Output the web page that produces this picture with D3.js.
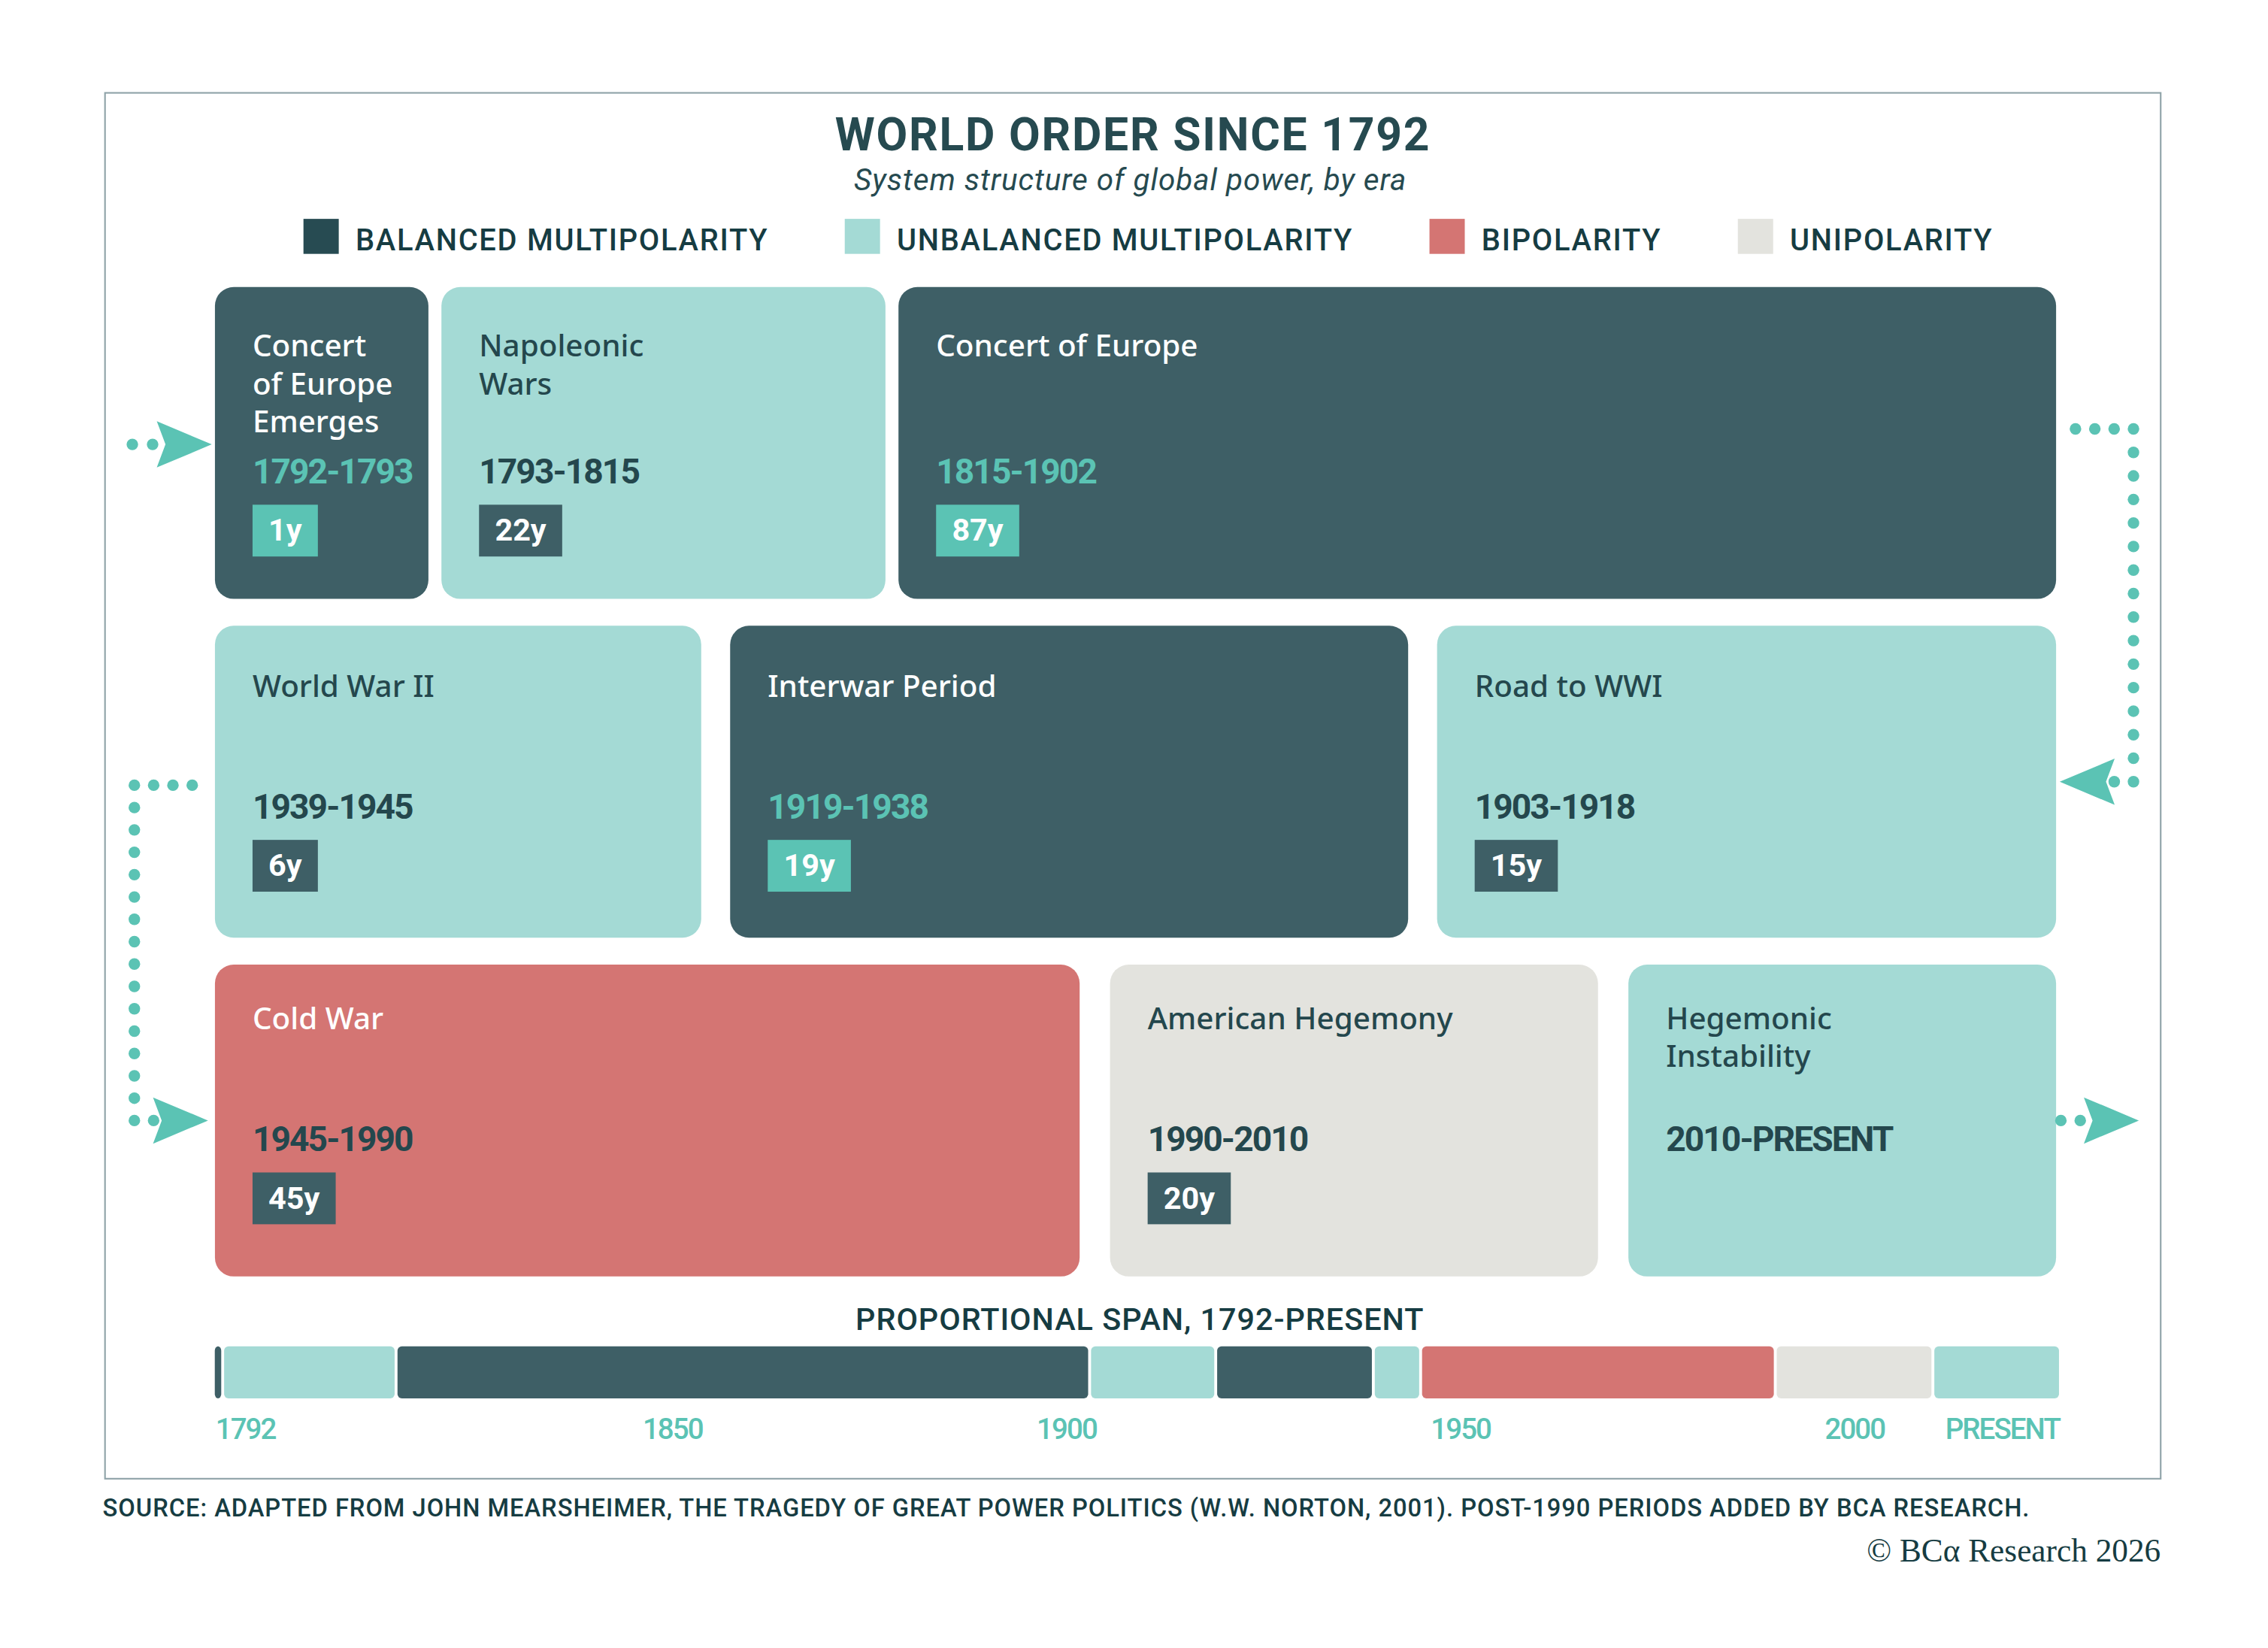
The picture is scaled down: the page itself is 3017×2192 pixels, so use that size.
<!DOCTYPE html>
<html>
<head>
<meta charset="utf-8">
<script src="https://cdn.jsdelivr.net/npm/d3@7"></script>
<style>
  html, body { margin: 0; padding: 0; background: #fff; }
  svg { display: block; }
</style>
</head>
<body>
<div id="chart-area"></div>
<script>
const eraNames = ["Concert|of Europe|Emerges", "Napoleonic|Wars", "Concert of Europe", "Road to WWI", "Interwar Period", "World War II", "Cold War", "American Hegemony", "Hegemonic|Instability"];
const eraStart = [1792, 1793, 1815, 1903, 1919, 1939, 1945, 1990, 2010];
const eraEnd = [1793, 1815, 1902, 1918, 1938, 1945, 1990, 2010, null];
const eraType = ["balanced", "unbalanced", "balanced", "unbalanced", "balanced", "unbalanced", "bipolar", "unipolar", "unbalanced"];
const presentYear = 2026;

const legendKeys = ["balanced", "unbalanced", "bipolar", "unipolar"];
const legendLabels = ["BALANCED MULTIPOLARITY", "UNBALANCED MULTIPOLARITY", "BIPOLARITY", "UNIPOLARITY"];

const tickYears = [1792, 1850, 1900, 1950, 2000, 2026];
const tickLabels = ["1792", "1850", "1900", "1950", "2000", "PRESENT"];

// boxes in reading order, row by row (middle row runs right to left)
const rowOrder = [[0, 1, 2], [5, 4, 3], [6, 7, 8]];

const fill = { balanced: "#3e5f66", unbalanced: "#a4dad5", bipolar: "#d47573", unipolar: "#e3e3de" };
const swatch = { balanced: "#274b52", unbalanced: "#a4dad5", bipolar: "#d47573", unipolar: "#e3e3de" };
const accent = "#5bc3b4";
const ink = "#24474d";
const darkInk = "#163c42";
const sans = "Roboto, 'Noto Sans', sans-serif";
const body = "'Noto Sans', Roboto, sans-serif";

const W = 3017, H = 2192;
const k = W / 1568;
const vw = 1568, vh = H / k;

const svg = d3
  .select("#chart-area")
  .append("svg")
  .attr("width", W)
  .attr("height", H)
  .attr("viewBox", `0 0 ${vw} ${vh}`);

const endOf = (i) => (eraEnd[i] === null ? presentYear : eraEnd[i]);
const spanOf = (i) => endOf(i) - eraStart[i];

const gridLeft = 148.6, gridRight = 1421.5, gridTop = 198.4;
const rowH = 215.6, rowStep = 234.2;
const rowCenter = (r) => gridTop + r * rowStep + rowH / 2;

drawFrame();
drawHeader();
drawBoxes();
drawConnectors();
drawSpanBar();
drawFooter();

function drawFrame() {
  svg
    .append("rect")
    .attr("x", 72.6)
    .attr("y", 64.2)
    .attr("width", 1421.2)
    .attr("height", 958)
    .attr("fill", "none")
    .attr("stroke", "#8fa3a8")
    .attr("stroke-width", 1.1);
}

function drawHeader() {
  svg
    .append("text")
    .attr("x", 783.2)
    .attr("y", 104)
    .attr("text-anchor", "middle")
    .style("font-family", sans)
    .style("font-weight", 700)
    .style("font-size", "31.5px")
    .style("letter-spacing", "0.9px")
    .attr("fill", "#264a50")
    .text("WORLD ORDER SINCE 1792");

  svg
    .append("text")
    .attr("x", 781.5)
    .attr("y", 131.5)
    .attr("text-anchor", "middle")
    .style("font-family", sans)
    .style("font-style", "italic")
    .style("font-size", "21px")
    .style("letter-spacing", "0.5px")
    .attr("fill", "#264a50")
    .text("System structure of global power, by era");

  const items = svg
    .append("g")
    .selectAll("g")
    .data(legendKeys)
    .join("g");

  items
    .append("rect")
    .attr("y", 151.3)
    .attr("width", 24.4)
    .attr("height", 24.2)
    .attr("fill", (d) => swatch[d]);

  items
    .append("text")
    .attr("x", 36)
    .attr("y", 173.3)
    .style("font-family", sans)
    .style("font-weight", 500)
    .style("font-size", "20.7px")
    .style("letter-spacing", "0.9px")
    .attr("fill", darkInk)
    .text((d, i) => legendLabels[i]);

  // spread the items between the two ends of the legend row
  const widths = items.select("text").nodes().map((n) => 36 + n.getComputedTextLength());
  const left = 209.8, right = 1378;
  const gap = (right - left - d3.sum(widths)) / (widths.length - 1);
  let cursor = left;
  items.attr("transform", (d, i) => {
    const t = `translate(${cursor},0)`;
    cursor += widths[i] + gap;
    return t;
  });
}

function drawBoxes() {
  const rowGap = [9, 20, 21];
  const rowBasis = [140, 275, 129];
  const rowShift = [2.5, 0, -4.3];
  const titleShift = [-0.8, 0, -4.3];
  const pad = 26;

  const boxes = [];
  rowOrder.forEach((ids, r) => {
    const avail = gridRight - gridLeft - rowGap[r] * (ids.length - 1);
    const total = d3.sum(ids, spanOf);
    const grow = (avail - rowBasis[r] * ids.length) / total;
    let x = gridLeft;
    ids.forEach((id) => {
      const w = rowBasis[r] + grow * spanOf(id);
      boxes.push({ id, row: r, x, y: gridTop + r * rowStep, w, h: rowH });
      x += w + rowGap[r];
    });
  });

  const box = svg
    .append("g")
    .selectAll("g")
    .data(boxes)
    .join("g")
    .attr("transform", (d) => `translate(${d.x},${d.y})`);

  box
    .append("rect")
    .attr("width", (d) => d.w)
    .attr("height", (d) => d.h)
    .attr("rx", 13)
    .attr("fill", (d) => fill[eraType[d.id]]);

  box
    .append("text")
    .attr("y", (d) => 49 + titleShift[d.row])
    .style("font-family", body)
    .style("font-weight", 500)
    .style("font-size", "21px")
    .attr("fill", (d) => {
      const t = eraType[d.id];
      return t === "balanced" || t === "bipolar" ? "#ffffff" : ink;
    })
    .selectAll("tspan")
    .data((d) => eraNames[d.id].split("|"))
    .join("tspan")
    .attr("x", pad)
    .attr("dy", (d, i) => (i === 0 ? 0 : 26))
    .text((d) => d);

  box
    .append("text")
    .attr("x", pad)
    .attr("y", (d) => 133.3 + rowShift[d.row])
    .style("font-family", sans)
    .style("font-weight", 700)
    .style("font-size", "24px")
    .style("letter-spacing", "-1px")
    .attr("fill", (d) => (eraType[d.id] === "balanced" ? accent : ink))
    .text((d) => `${eraStart[d.id]}-${eraEnd[d.id] === null ? "PRESENT" : eraEnd[d.id]}`);

  const badge = box
    .filter((d) => eraEnd[d.id] !== null)
    .append("g")
    .attr("transform", (d) => `translate(${pad},${148 + rowShift[d.row]})`);

  badge
    .append("rect")
    .attr("height", 35.8)
    .attr("fill", (d) => (eraType[d.id] === "balanced" ? accent : "#3e5f66"));

  badge
    .append("text")
    .attr("x", 11)
    .attr("y", 25)
    .style("font-family", sans)
    .style("font-weight", 700)
    .style("font-size", "21.5px")
    .attr("fill", "#ffffff")
    .text((d) => `${spanOf(d.id)}y`);

  badge.each(function () {
    const g = d3.select(this);
    const w = g.select("text").node().getComputedTextLength();
    g.select("rect").attr("width", w + 22);
  });
}

function drawConnectors() {
  const g = svg.append("g").attr("fill", accent);
  const dot = (pts) =>
    g
      .selectAll(null)
      .data(pts)
      .join("circle")
      .attr("cx", (d) => d[0])
      .attr("cy", (d) => d[1])
      .attr("r", 4);
  const line = (x0, y0, x1, y1, n) =>
    d3.range(n).map((i) => [x0 + ((x1 - x0) * i) / (n - 1), y0 + ((y1 - y0) * i) / (n - 1)]);
  const arrow = (tx, cy, dir) =>
    g
      .append("path")
      .attr(
        "d",
        `M${tx},${cy}L${tx - 38 * dir},${cy - 16}L${tx - 32 * dir},${cy}L${tx - 38 * dir},${cy + 16}Z`
      );

  const c0 = rowCenter(0), c1 = rowCenter(1), c2 = rowCenter(2);

  // entry
  dot(line(91.5, c0 + 1, 105.5, c0 + 1, 2));
  arrow(146.4, c0 + 1, 1);

  // row 1 -> row 2 on the right
  const top1 = c0 - 9.7;
  dot(line(1434.9, top1, 1475, top1, 4));
  dot(line(1475, top1, 1475, c1, 16).slice(1));
  dot([[1461.7, c1]]);
  arrow(1424, c1, -1);

  // row 2 -> row 3 on the left
  const top2 = c1 + 2.4;
  dot(line(132.9, top2, 92.9, top2, 4));
  dot(line(92.9, top2, 92.9, c2, 16).slice(1));
  dot([[106.2, c2]]);
  arrow(143.8, c2, 1);

  // exit
  dot(line(1424.8, c2, 1438.2, c2, 2));
  arrow(1478.7, c2, 1);
}

function drawSpanBar() {
  const x = d3.scaleLinear().domain([eraStart[0], presentYear]).range([148.5, 1423.5]);
  const barTop = 930.7, barH = 36;

  svg
    .append("text")
    .attr("x", 788)
    .attr("y", 919.4)
    .attr("text-anchor", "middle")
    .style("font-family", sans)
    .style("font-weight", 500)
    .style("font-size", "21.5px")
    .style("letter-spacing", "0.5px")
    .attr("fill", darkInk)
    .text("PROPORTIONAL SPAN, 1792-PRESENT");

  const n = eraStart.length;
  svg
    .append("g")
    .selectAll("rect")
    .data(eraStart)
    .join("rect")
    .attr("x", (d, i) => x(d) + (i === 0 ? 0 : 1))
    .attr("y", barTop)
    .attr("width", (d, i) => {
      const x1 = x(i < n - 1 ? eraStart[i + 1] : presentYear);
      return x1 - x(d) - (i === 0 ? 0 : 1) - (i < n - 1 ? 1 : 0);
    })
    .attr("height", barH)
    .attr("rx", 3)
    .attr("fill", (d, i) => fill[eraType[i]]);

  const axis = svg
    .append("g")
    .attr("transform", "translate(0,994.5)")
    .call(
      d3
        .axisBottom(x)
        .tickValues(tickYears)
        .tickFormat((d, i) => tickLabels[i])
        .tickSize(0)
    );
  axis.select(".domain").remove();
  axis
    .selectAll("text")
    .attr("y", 0)
    .attr("dy", null)
    .attr("text-anchor", (d, i) => (i === 0 ? "start" : i === tickYears.length - 1 ? "end" : "middle"))
    .attr("fill", accent)
    .style("font-family", sans)
    .style("font-weight", 500)
    .style("font-size", "20px")
    .style("letter-spacing", "-1px");
}

function drawFooter() {
  svg
    .append("text")
    .attr("x", 71)
    .attr("y", 1048.2)
    .style("font-family", sans)
    .style("font-weight", 500)
    .style("font-size", "17px")
    .style("letter-spacing", "0.5px")
    .attr("fill", darkInk)
    .text(
      "SOURCE: ADAPTED FROM JOHN MEARSHEIMER, THE TRAGEDY OF GREAT POWER POLITICS (W.W. NORTON, 2001). POST-1990 PERIODS ADDED BY BCA RESEARCH."
    );

  svg
    .append("text")
    .attr("x", 1493.8)
    .attr("y", 1079.4)
    .attr("text-anchor", "end")
    .style("font-family", "'Liberation Serif', 'DejaVu Serif', serif")
    .style("font-size", "22.5px")
    .attr("fill", darkInk)
    .text("© BCα Research 2026");
}
</script>
</body>
</html>
